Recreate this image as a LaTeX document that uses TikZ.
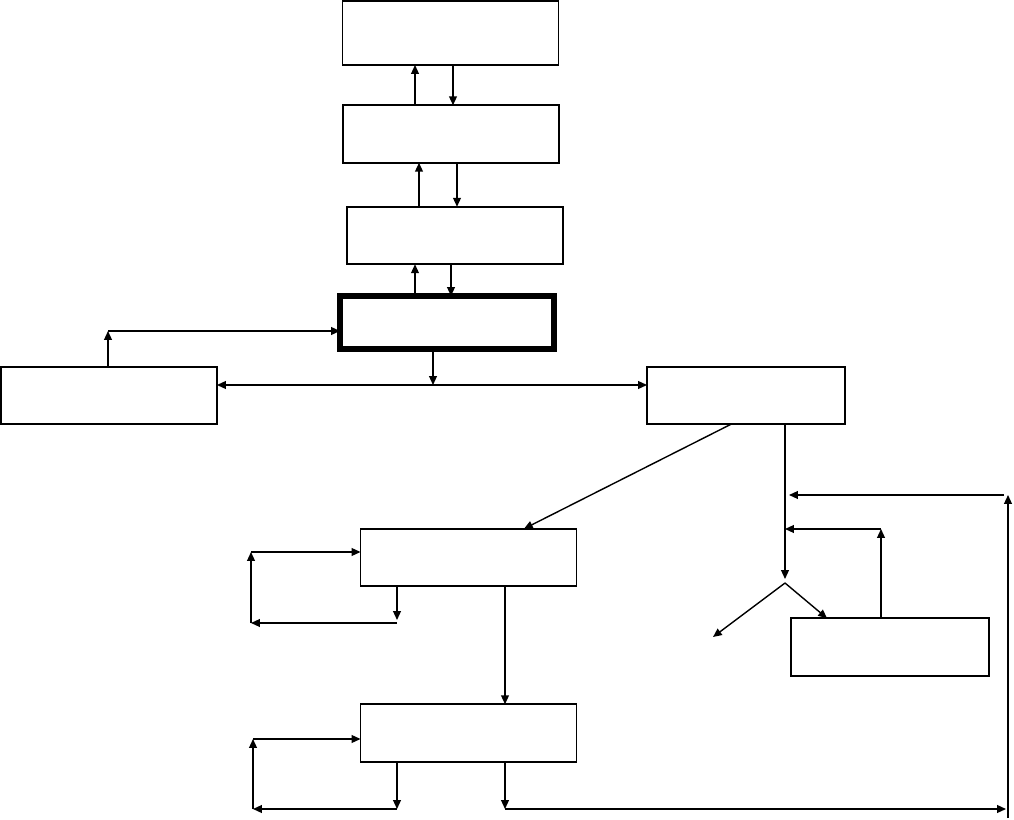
\documentclass[tikz,border=0pt]{standalone}
\usepackage{tikz}
\usetikzlibrary{calc}
\usetikzlibrary{positioning}
\usetikzlibrary{arrows.meta}

\begin{document}
\begin{tikzpicture}[
		x=0.02cm, y=-0.02cm,
		b/.style = {rectangle, draw=black, fill=white, line width=1.1pt, inner sep=0pt, outer sep=0pt, minimum width=4.32cm, minimum height=1.15cm},
		n/.style = {b, minimum width=3.96cm},
		k/.style = {b, line width=3.2pt, minimum width=4.28cm, minimum height=1.06cm},
		r/.style = {-{Triangle[length=5pt, width=4.4pt]}, line width=0.8pt},
		rr/.style = {{Triangle[length=5pt, width=4.4pt]}-{Triangle[length=5pt, width=4.4pt]}, line width=0.8pt}
		]
		\useasboundingbox (0,0) rectangle (1014,820);
		
		% === === Nodes === ===
		\node[b, minimum height=1.28cm]	(top)	at	(450.5, 33)		{};
		\node[b]	(mid)	at	(451, 134)		{};
		\node[b]	(low)	at	(455, 235.5)	{};
		\node[k]	(core)	at	(447, 322.5)	{};
		\node[b]	(lft)	at	(109, 395.5)	{};
		\node[n]	(rgt)	at	(746, 395.5)	{};
		\node[b]	(upr)	at	(468.5, 557.5)	{};
		\node[b]	(bot)	at	(468.5, 733)	{};
		\node[n]	(sml)	at	(890, 647)		{};
		
		\coordinate	(feed)	at	(108, 331);
		\coordinate	(hub)	at	(433, 385);
		\coordinate	(fork)	at	(785, 583);
		\coordinate	(tip)	at	(713, 637);
		\coordinate	(ret)	at	(881, 529);
		\coordinate	(bl)	at	(505, 809);
		\coordinate	(br)	at	(1008, 809);
		\coordinate	(tr)	at	(1008, 495);
		\coordinate	(la)	at	(397, 623);
		\coordinate	(lb)	at	(251, 623);
		\coordinate	(lc)	at	(251, 552);
		\coordinate	(ma)	at	(397, 809);
		\coordinate	(mb)	at	(253, 809);
		\coordinate	(mc)	at	(253, 739);
		
		
		% === === Lines === ===
		\draw[r]	(415,0 |- mid.north)	--	(415,0 |- top.south);
		\draw[r]	(453,0 |- top.south)	--	(453,0 |- mid.north);
		\draw[r]	(419,0 |- low.north)	--	(419,0 |- mid.south);
		\draw[r]	(457,0 |- mid.south)	--	(457,0 |- low.north);
		\draw[r]	(415,0 |- core.north)	--	(415,0 |- low.south);
		\draw[r]	(451,0 |- low.south)	--	(451,0 |- core.north);
		
		\draw[r]	(feed |- lft.north)	--	(feed);
		\draw[r]	(feed)	--	(core.west |- feed);
		\draw[r]	(433,0 |- core.south)	--	(hub);
		\draw[rr]	(lft.east |- hub)	--	(rgt.west |- hub);
		
		\draw[r]	(731,0 |- rgt.south)	--	(524,0 |- upr.north);
		\draw[r]	(785,0 |- rgt.south)	--	([yshift=0.08cm]fork);
		\draw[r]	(fork)	--	(tip);
		\draw[r]	(fork)	--	(827,0 |- sml.north);
		\draw[r]	(ret |- sml.north)	--	(ret);
		\draw[r]	(ret)	--	(fork |- ret);
		
		\draw[r]	(upr.south -| la)	--	([yshift=0.06cm]la);
		\draw[r]	(la)	--	(lb);
		\draw[r]	(lb)	--	(lc);
		\draw[r]	(lc)	--	(upr.west |- lc);
		\draw[r]	(505,0 |- upr.south)	--	(505,0 |- bot.north);
		
		\draw[r]	(bot.south -| ma)	--	(ma);
		\draw[r]	(ma)	--	(mb);
		\draw[r]	(mb)	--	(mc);
		\draw[r]	(mc)	--	(bot.west |- mc);
		
		\draw[r]	(bot.south -| bl)	--	(bl);
		\draw[r]	(bl)	--	([xshift=-0.04cm]br);
		\draw[r]	([yshift=-0.18cm]br)	--	(tr);
		\draw[r]	([xshift=-0.08cm]tr)	--	(789,495);
		
		
	\end{tikzpicture}
\end{document}
